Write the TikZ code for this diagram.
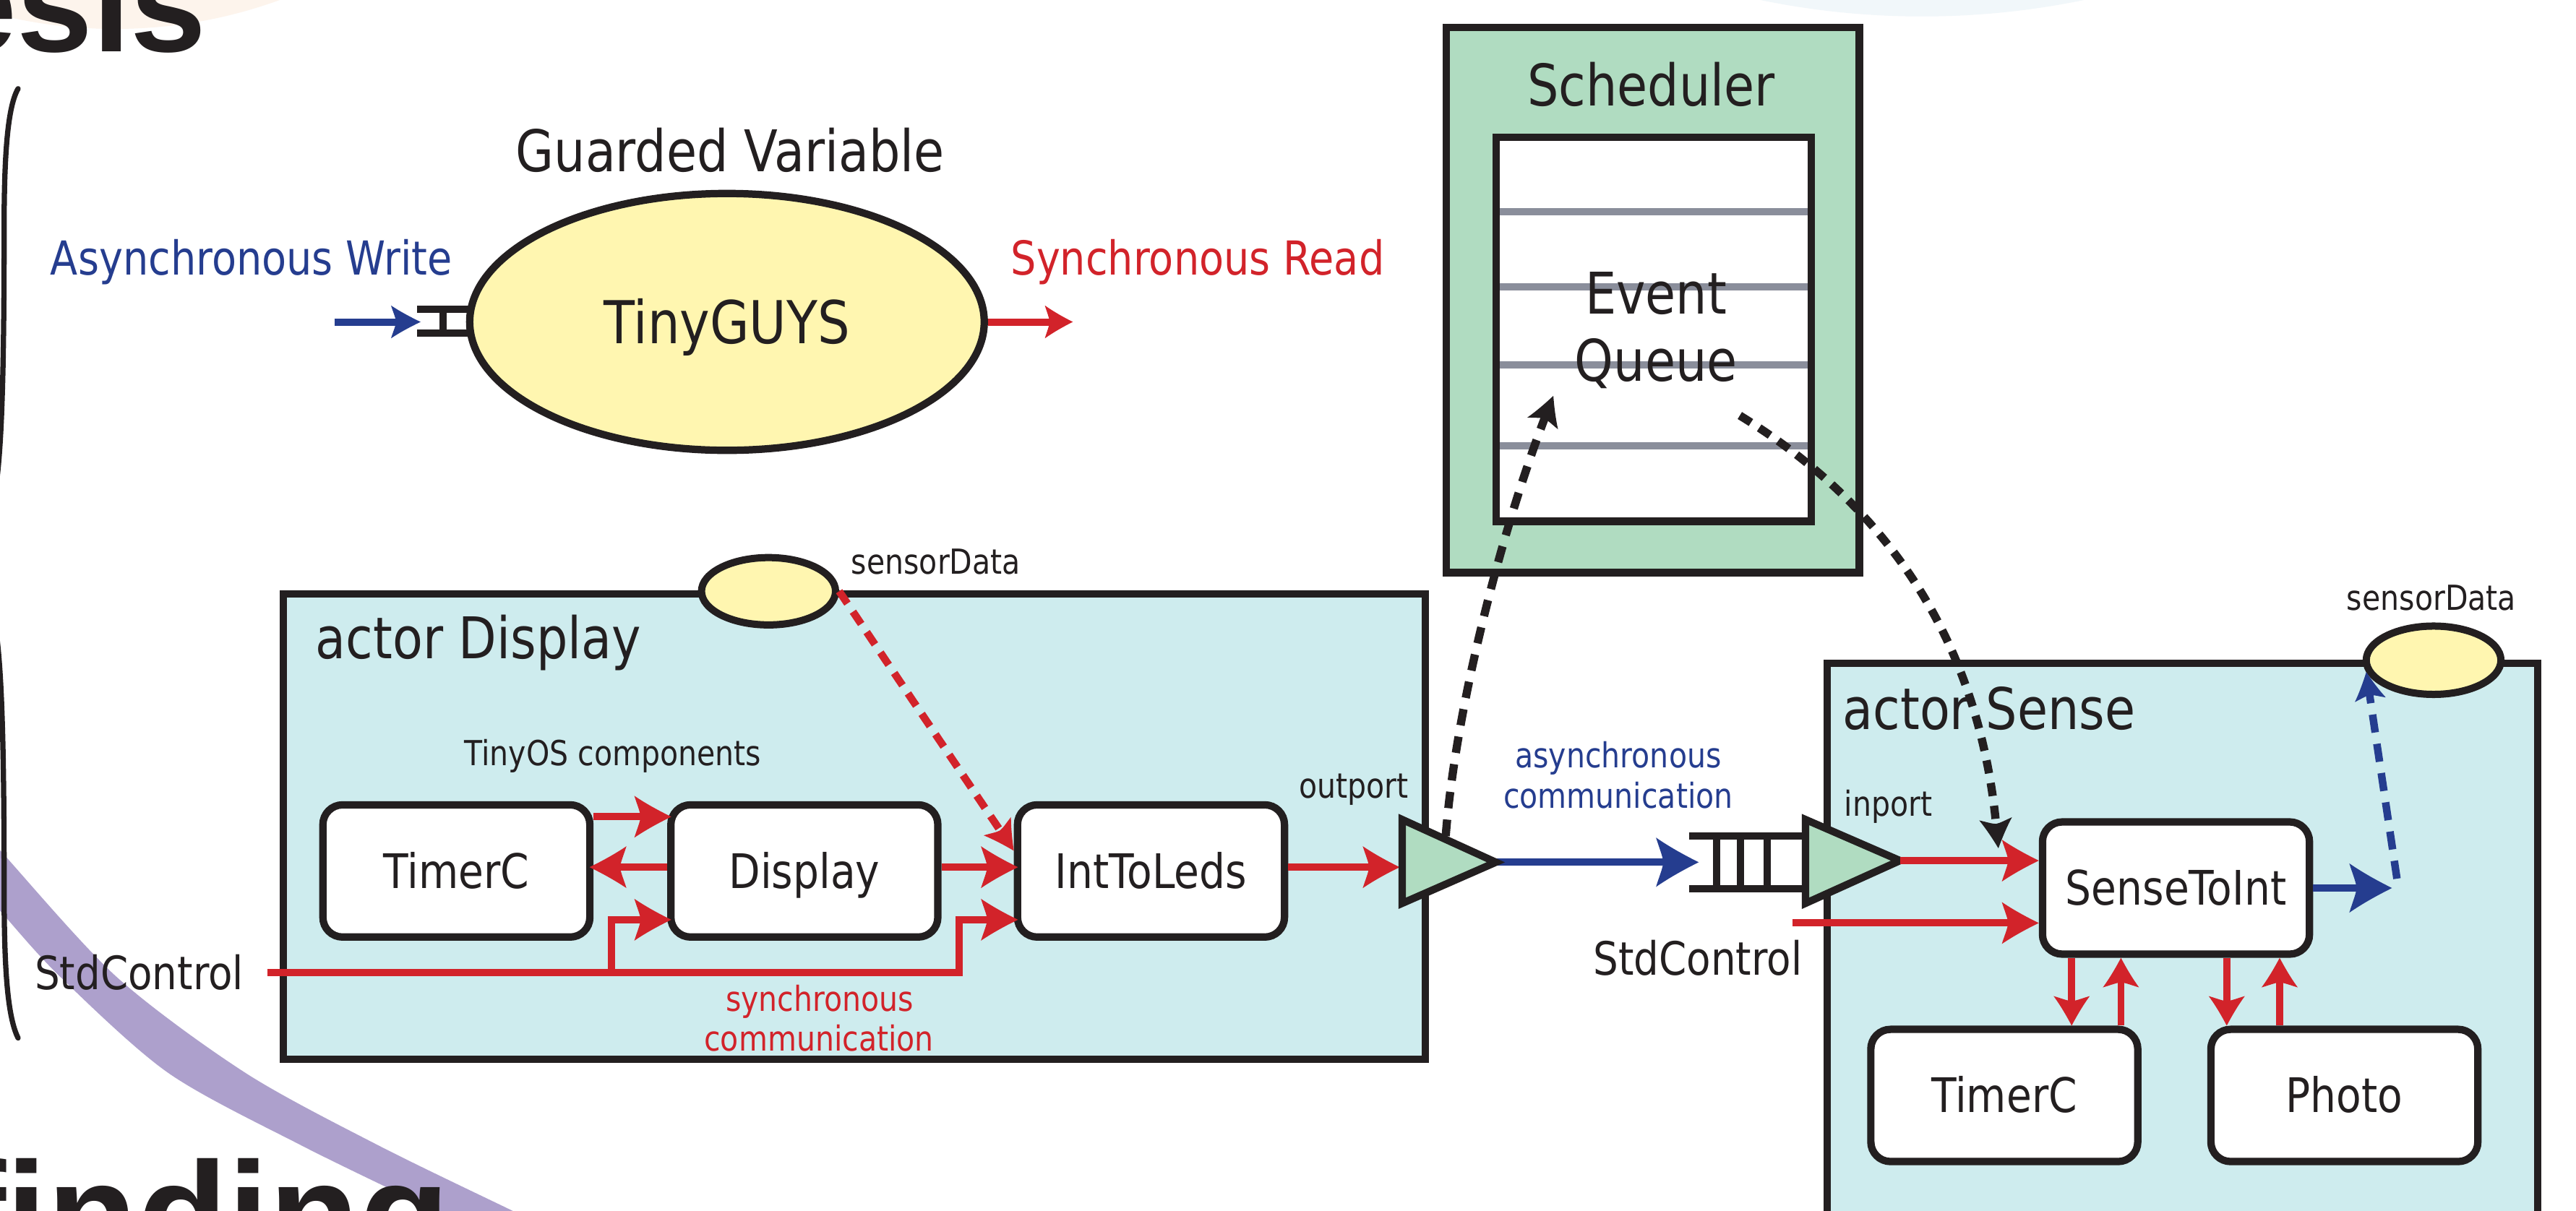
\documentclass[tikz,border=0pt]{standalone}
\usepackage{fontspec}
\setmainfont{DejaVu Sans}[FakeStretch=0.86]
\newfontfamily\posterfont{Liberation Sans}
\usetikzlibrary{arrows.meta,shapes.geometric}
\definecolor{blk}{RGB}{35,31,32}
\definecolor{myblue}{RGB}{37,61,143}
\definecolor{myred}{RGB}{210,35,42}
\definecolor{yel}{RGB}{255,246,176}
\definecolor{cyanfill}{RGB}{206,236,238}
\definecolor{grn}{RGB}{176,220,193}
\definecolor{gry}{RGB}{138,142,155}
\definecolor{lav}{RGB}{173,160,204}
\definecolor{peach}{RGB}{253,244,236}
\definecolor{paleblue}{RGB}{241,247,250}
\newcommand\setfs[1]{\fontsize{#1}{#1}\selectfont}

\pgfdeclarearrow{
  name = Swept,
  setup code = {
    \pgfarrowssettipend{0pt}
    \pgfarrowssetbackend{-\pgfarrowlength}
    \pgfarrowssetlineend{-.75\pgfarrowlength}
    \pgfarrowssavethe\pgfarrowlength
    \pgfarrowssavethe\pgfarrowwidth
  },
  drawing code = {
    \pgfpathmoveto{\pgfpoint{0pt}{0pt}}
    \pgfpathcurveto{\pgfpoint{-.35\pgfarrowlength}{.15\pgfarrowwidth}}{\pgfpoint{-.7\pgfarrowlength}{.32\pgfarrowwidth}}{\pgfpoint{-\pgfarrowlength}{.5\pgfarrowwidth}}
    \pgfpathcurveto{\pgfpoint{-.93\pgfarrowlength}{.3\pgfarrowwidth}}{\pgfpoint{-.84\pgfarrowlength}{.12\pgfarrowwidth}}{\pgfpoint{-.83\pgfarrowlength}{0pt}}
    \pgfpathcurveto{\pgfpoint{-.84\pgfarrowlength}{-.12\pgfarrowwidth}}{\pgfpoint{-.93\pgfarrowlength}{-.3\pgfarrowwidth}}{\pgfpoint{-\pgfarrowlength}{-.5\pgfarrowwidth}}
    \pgfpathcurveto{\pgfpoint{-.7\pgfarrowlength}{-.32\pgfarrowwidth}}{\pgfpoint{-.35\pgfarrowlength}{-.15\pgfarrowwidth}}{\pgfpoint{0pt}{0pt}}
    \pgfpathclose
    \pgfusepathqfill
  },
  parameters = {\the\pgfarrowlength,\the\pgfarrowwidth},
}

\begin{document}
\begin{tikzpicture}[x=1pt,y=-1pt,
  lbl/.style={inner sep=0pt, text=blk},
  t35/.style={lbl, font=\setfs{35}},
  t21/.style={lbl, font=\setfs{21}},
  t28/.style={lbl, font=\setfs{28}},
  comp/.style={draw=blk, line width=4.5pt, fill=white, rounded corners=12pt, minimum width=162.5pt, minimum height=80.5pt, inner sep=0pt, text height=21pt, text depth=0pt, font=\setfs{29}, text=blk},
  abox/.style={draw=blk, line width=4.4pt, fill=cyanfill, inner sep=0pt},
  sdell/.style={ellipse, draw=blk, line width=4.4pt, fill=yel, inner sep=0pt},
  tri/.style={draw=blk, line width=4.5pt, fill=grn, line join=miter},
  ladder/.style={draw=blk, line width=4.4pt},
  redarr/.style={draw=myred, line width=4.4pt, -{Swept[length=22.5pt,width=25.5pt]}},
  deep/.style={shorten >=-2.5pt},
  redarrv/.style={draw=myred, line width=4.2pt, -{Swept[length=18pt,width=22pt]}},
  bluearr/.style={draw=myblue, line width=4.4pt, -{Swept[length=26pt,width=30pt]}},
  smallblue/.style={draw=myblue, line width=4.4pt, -{Swept[length=18pt,width=20pt]}},
  smallred/.style={draw=myred, line width=4.4pt, -{Swept[length=17pt,width=20pt]}},
  blkdash/.style={draw=blk, line width=5pt, dash pattern=on 10pt off 7pt, -{Swept[length=18pt,width=20pt]}},
  reddash/.style={draw=myred, line width=4.6pt, dash pattern=on 9pt off 6pt, -{Swept[length=18pt,width=20pt]}},
  bluedash/.style={draw=myblue, line width=4.6pt, dash pattern=on 11pt off 7pt, -{Swept[length=17pt,width=19pt]}},
]
\useasboundingbox (0,0) rectangle (1568,737);
\clip (0,0) rectangle (1568,737);
\fill[white] (0,0) rectangle (1568,737);

% ---------- poster background ----------
\fill[peach] (70,-275.3) circle[radius=292.9];
\fill[paleblue] (1170,-475) circle[radius=485];
\fill[lav] plot[smooth] coordinates {(-10,508) (0,517.7) (70.4,594.3) (149.3,653.2) (230.3,697.4) (311.3,736.9) (330,746)}
  -- plot[smooth] coordinates {(282,746) (264.4,736.9) (183.4,697.4) (102.3,653.2) (36.2,594.3) (0,554.5) (-10,544)} -- cycle;
\draw[blk, line width=3.2pt, line cap=round]
  (11,54) .. controls (4,66) and (2.5,100) .. (2.5,140)
  .. controls (2.5,230) and (1,275) .. (-3,300)
  .. controls (-6,320) and (-10,335) .. (-16,340)
  .. controls (-10,345) and (-6,360) .. (-3,380)
  .. controls (1,405) and (2.5,450) .. (2.5,540)
  .. controls (2.5,585) and (4,618) .. (11,632);
\node[anchor=base west, inner sep=0pt, text=blk, font=\posterfont\bfseries\setfs{83}] (esis) at (-36,31.6) {esis};
\node[anchor=base west, inner sep=0pt, text=blk, font=\posterfont\bfseries\setfs{90}] (find) at (-26.5,770.4) {f\kern0pt{}inding};

% ---------- guarded variable ----------
\coordinate (aw) at (203.5,196);
\coordinate (gd) at (256,196);
\coordinate (sr) at (653,196);
\draw[ladder] (254,188.2) -- (287,188.2) (254,202.8) -- (287,202.8) (269.8,188.2) -- (269.8,202.8);
\node[ellipse, draw=blk, line width=4.5pt, fill=yel, minimum width=313.2pt, minimum height=156.4pt,
      inner sep=0pt, text height=26pt, text depth=0pt, font=\setfs{36}, text=blk] (tg) at (442.5,196) {TinyGUYS};
\draw[smallblue] (aw) -- (gd);
\draw[smallred] (tg.east) -- (sr);

% ---------- scheduler ----------
\node[draw=blk, line width=4.6pt, fill=grn, minimum width=251.5pt, minimum height=331.9pt, inner sep=0pt] (sched) at (1006.05,182.65) {};
\node[draw=blk, line width=4.6pt, fill=white, minimum width=191.8pt, minimum height=233.9pt, inner sep=0pt] (queue) at (1006.5,200.45) {};
\foreach \yy in {129,174.5,222.3,271.4} \draw[gry, line width=4.3pt] (912.9,\yy) -- (1100.1,\yy);

% ---------- actors ----------
\node[abox, minimum width=694.9pt, minimum height=283pt] (ad) at (520.05,503.3) {};
\node[abox, minimum width=432.8pt, minimum height=360pt] (as) at (1328.4,584) {};
\node[sdell, minimum width=81.6pt, minimum height=41pt] (sd1) at (467.8,360) {};
\node[sdell, minimum width=82pt, minimum height=41.6pt] (sd2) at (1481.3,402) {};

% ---------- components ----------
\node[comp] (t1) at (277.8,530.3) {TimerC};
\node[comp] (d1) at (489.6,530.3) {Display};
\node[comp] (i1) at (700.6,530.3) {IntToLeds};
\node[comp] (s2) at (1324.5,540.7) {SenseToInt};
\node[comp] (t2) at (1220,667) {TimerC};
\node[comp] (p2) at (1427,667) {Photo};

% ---------- ports and queue geometry ----------
\coordinate (opA) at (853.5,499);
\coordinate (opB) at (853.5,550);
\coordinate (optip) at (910.5,525);
\coordinate (opin) at (852,528);
\coordinate (ipA) at (1099,499);
\coordinate (ipB) at (1099,550);
\coordinate (iptip) at (1156.5,524);
\coordinate (qin) at (1034,525);
\coordinate (sc1) at (162.7,592);
\coordinate (b1) at (372.4,592);
\coordinate (b2) at (583.6,592);
\coordinate (sc2) at (1091,562);
\coordinate (bout) at (1456,540.7);
\coordinate (bd0) at (1459,535);
\coordinate (dstart) at (880,509);
\coordinate (qin1) at (945.5,241);
\coordinate (qout) at (1059,253);
\coordinate (evtip) at (1216.4,516.5);

% ---------- red synchronous connectors (Display) ----------
\draw[redarr, deep] ([yshift=33pt]t1.east) -- ([yshift=33pt]d1.west);
\draw[redarr, deep] ([yshift=2.3pt]d1.west) -- ([yshift=2.3pt]t1.east);
\draw[redarr, deep] ([yshift=2.3pt]d1.east) -- ([yshift=2.3pt]i1.west);
\draw[redarr, deep] (sc1) -- (b1) |- ([yshift=-29.7pt]d1.west);
\draw[redarr, deep] (b1) -- (b2) |- ([yshift=-29.7pt]i1.west);
\draw[redarr] ([yshift=2.3pt]i1.east) -- (opin);

% ---------- asynchronous link ----------
\draw[bluearr] (optip) -- (qin);
\draw[ladder] (1028,509) -- (1100,509) (1028,541) -- (1100,541)
  (1045,509) -- (1045,541) (1059.2,509) -- (1059.2,541) (1075.6,509) -- (1075.6,541);
\draw[tri] (opA) -- (optip) -- (opB) -- cycle;
\draw[tri] (ipA) -- (iptip) -- (ipB) -- cycle;

% ---------- Sense connectors ----------
\draw[redarr] (iptip) -- (s2.west |- iptip);
\draw[redarr] (sc2) -- (s2.west |- sc2);
\draw[redarrv] ([xshift=-63.5pt]s2.south) -- ([xshift=-63.5pt]s2.south |- t2.north);
\draw[redarrv] ([xshift=-33.5pt]s2.south |- t2.north) -- ([xshift=-33.5pt]s2.south);
\draw[redarrv] ([xshift=30.9pt]s2.south) -- ([xshift=30.9pt]s2.south |- p2.north);
\draw[redarrv] ([xshift=63.1pt]s2.south |- p2.north) -- ([xshift=63.1pt]s2.south);
\draw[bluearr] (s2.east) -- (bout);
\draw[bluedash] (bd0) -- (sd2.190);

% ---------- dashed links ----------
\draw[reddash] (sd1.east) -- ([yshift=12.3pt]i1.west);
\draw[blkdash] (dstart) .. controls (886,430) and (915,320) .. (qin1);
\draw[blkdash, dash pattern=on 8pt off 6pt] (qout) .. controls (1135.5,300) and (1203,376) .. (evtip);

% ---------- texts ----------
\node[t35, anchor=base] (gvt) at (444.4,104.3) {Guarded Variable};
\node[lbl, anchor=base, font=\setfs{28.5}, text=myblue] (awt) at (153,167.2) {Asynchronous Write};
\node[lbl, anchor=base, font=\setfs{28.5}, text=myred] (srt) at (729,167.2) {Synchronous Read};
\node[t35, anchor=base] (schedt) at (1005,64.4) {Scheduler};
\node[t35, anchor=base] (evt) at (1008,191) {Event};
\node[t35, anchor=base] (qut) at (1008,232) {Queue};
\node[t35, anchor=base west] (adt) at (192,401) {actor Display};
\node[t35, anchor=base west] (ast) at (1121.5,444) {actor Sense};
\node[t21, anchor=base] (tost) at (373,466) {TinyOS components};
\node[t21, anchor=base west] (sd1t) at (518,349.5) {sensorData};
\node[t21, anchor=base] (sd2t) at (1480,371.6) {sensorData};
\node[t21, anchor=base] (outt) at (824,486) {outport};
\node[t21, anchor=base] (inpt) at (1149.4,497) {inport};
\node[t21, anchor=base, text=myblue] (asyt) at (985,467.4) {asynchronous};
\node[t21, anchor=base, text=myblue] (comt) at (985,492) {communication};
\node[t21, anchor=base, text=myred] (synt) at (499,615.5) {synchronous};
\node[t21, anchor=base, text=myred] (com2t) at (498.5,640) {communication};
\node[t28, anchor=base west] (sc1t) at (21,602.3) {StdControl};
\node[t28, anchor=base west] (sc2t) at (969.7,593.7) {StdControl};
\end{tikzpicture}
\end{document}
